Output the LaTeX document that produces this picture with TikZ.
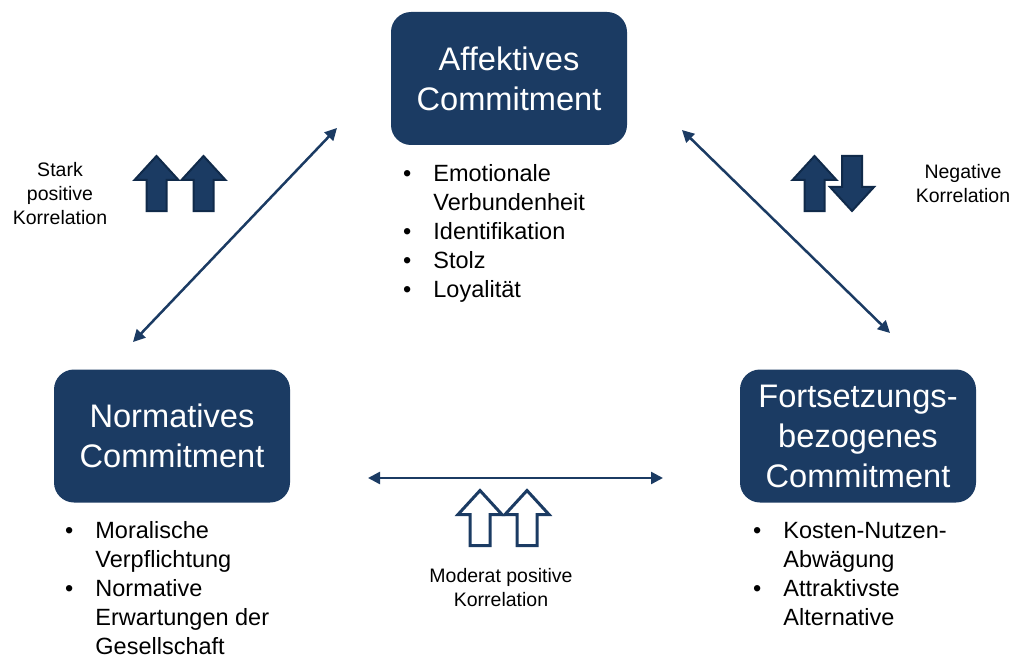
\documentclass[tikz,border=0pt]{standalone}
\usepackage{fontspec}
\setmainfont{Liberation Sans}
\usetikzlibrary{arrows.meta}

\definecolor{navy}{HTML}{1B3B63}
\definecolor{navyedge}{HTML}{102A4A}

\tikzset{
  box/.style={draw=none, fill=navy, rounded corners=20pt, minimum width=236pt,
    minimum height=133pt, text=white, align=center, inner sep=0pt,
    font=\fontsize{32.6}{40}\selectfont},
  listnode/.style={anchor=north west, inner sep=0pt, font=\fontsize{23.5}{29}\selectfont},
  note/.style={align=center, inner sep=0pt, font=\fontsize{19.5}{24}\selectfont},
  link/.style={draw=navy, line width=2.5pt, {Triangle[length=12pt,width=12pt]}-{Triangle[length=12pt,width=12pt]}},
  solidarrow/.style={fill=navy, draw=navyedge, line width=2pt, line join=miter},
  openarrow/.style={fill=white, draw=navy, line width=3pt, line join=miter},
  blockup/.pic={
    \path[pic actions] (0,-27.5) -- (22,-3.5) -- (10,-3.5) -- (10,27.5)
      -- (-10,27.5) -- (-10,-3.5) -- (-22,-3.5) -- cycle;
  }
}

\newcommand{\bul}{\textbullet}

\begin{document}
\begin{tikzpicture}[x=1pt, y=-1pt]
\useasboundingbox (0,0) rectangle (1010,658);

% the three commitment components
\node[box] (aff) at (509,78.5) {Affektives\\Commitment};
\node[box] (norm) at (172,436) {Normatives\\Commitment};
\node[box] (fort) at (858,436) {Fortsetzungs-\\bezogenes\\Commitment};

% characteristics below each component
\node[listnode] (laff) at (403,161) {\begin{tabular}{@{}l@{\hspace{22pt}}l@{}}
\bul & Emotionale\\ & Verbundenheit\\ \bul & Identifikation\\ \bul & Stolz\\ \bul & Loyalität
\end{tabular}};
\node[listnode] (lnorm) at (65,518) {\begin{tabular}{@{}l@{\hspace{22pt}}l@{}}
\bul & Moralische\\ & Verpflichtung\\ \bul & Normative\\ & Erwartungen der\\ & Gesellschaft
\end{tabular}};
\node[listnode] (lfort) at (753,518) {\begin{tabular}{@{}l@{\hspace{22pt}}l@{}}
\bul & Kosten-Nutzen-\\ & Abwägung\\ \bul & Attraktivste\\ & Alternative
\end{tabular}};

% relationships between the components
\coordinate (n1) at (133,342);
\coordinate (a1) at (337,128);
\coordinate (a2) at (682,130);
\coordinate (f1) at (890,333);
\coordinate (n2) at (368,478);
\coordinate (f2) at (663,478);
\draw[link] (n1) -- (a1);
\draw[link] (a2) -- (f1);
\draw[link] (n2) -- (f2);

% correlation labels
\node[note] (lbl1) at (60,194) {Stark\\positive\\Korrelation};
\node[note] (lbl2) at (963,184) {Negative\\Korrelation};
\node[note] (lbl3) at (501,588) {Moderat positive\\Korrelation};

% correlation symbols
\pic[solidarrow] at (156.5,183.5) {blockup};
\pic[solidarrow] at (203.5,183.5) {blockup};
\pic[solidarrow] at (814.5,183.5) {blockup};
\pic[solidarrow, rotate=180] at (852,183.5) {blockup};
\pic[openarrow] at (480,518) {blockup};
\pic[openarrow] at (527,518) {blockup};
\end{tikzpicture}
\end{document}
